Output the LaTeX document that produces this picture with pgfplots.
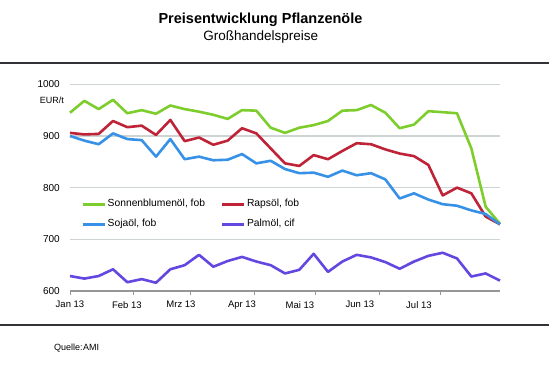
\documentclass[border=0pt]{standalone}
\usepackage{fontspec}
\setmainfont{Liberation Sans}
\usepackage{pgfplots}
\usepackage{pgfplotstable}
\pgfplotsset{compat=1.18}
\definecolor{cGreen}{RGB}{125,205,45}
\definecolor{cRed}{RGB}{190,35,55}
\definecolor{cBlue}{RGB}{55,145,230}
\definecolor{cPalm}{RGB}{100,70,225}
\definecolor{cGrid}{RGB}{205,212,210}
\definecolor{cAxis}{RGB}{150,150,150}
\definecolor{cRule}{RGB}{50,50,55}
\pgfplotstableread{
day green red blue palm
0 945 906 900 629
7 968 903 891 624
14 952 904 884 629
21 970 929 905 642
28 944 917 894 617
35 950 920 892 623
42 943 902 860 616
49 959 931 894 642
56 952 890 855 650
63 947 897 860 670
70 941 883 853 647
77 933 891 854 658
84 950 915 865 666
91 949 905 847 657
98 916 876 852 650
105 906 847 836 634
112 916 842 828 641
119 921 863 829 672
126 929 855 821 637
133 949 871 833 657
140 950 886 824 670
147 960 884 828 665
154 945 874 816 656
161 915 866 779 643
168 922 861 789 657
175 948 844 777 668
182 946 785 768 674
189 944 800 765 663
196 876 789 756 628
203 763 744 749 634
210 730 729 729 620
}\oeldata
\begin{document}
\begin{tikzpicture}
\path[use as bounding box] (0pt,0pt) rectangle (549pt,375pt);
\node[font=\bfseries\fontsize{14.5}{17}\selectfont] at (260.5pt,355.7pt) {Preisentwicklung Pflanzenöle};
\node[font=\fontsize{13.5}{16}\selectfont] at (260.8pt,337.7pt) {Großhandelspreise};
\draw[line width=2pt, cRule] (0pt,312.3pt) -- (549pt,312.3pt);
\draw[line width=2pt, cRule] (0pt,50pt) -- (549pt,50pt);
\node[anchor=west, font=\fontsize{9}{11}\selectfont, inner sep=0] at (54pt,27pt) {Quelle:\hspace{0.5pt}AMI};
\node[anchor=east, font=\fontsize{9}{11}\selectfont, inner sep=0] at (64pt,275pt) {EUR/t};
\begin{axis}[
  at={(70pt,84pt)}, anchor=south west,
  width=430pt, height=206.7pt, scale only axis,
  xmin=0, xmax=210, ymin=600, ymax=1000,
  axis x line*=bottom, axis y line*=left,
  y axis line style={draw=none},
  x axis line style={cAxis, line width=1.3pt, -},
  ytick={600,700,800,900,1000},
  yticklabels={600,700,800,900,1000},
  ytick style={draw=none},
  yticklabel style={anchor=east, inner sep=0, xshift=-6pt, font=\fontsize{10}{12}\selectfont},
  ymajorgrids, grid style={cGrid, line width=1.5pt},
  tick align=outside,
  major tick length=4pt,
  xtick={0,31,59,90,120,151,181},
  xticklabels={},
  xtick style={draw=cAxis, line width=1pt},
  extra x ticks={0,27.8,54.2,84,112.3,141.6,170.4},
  extra x tick labels={Jan 13,Feb 13,Mrz 13,Apr 13,Mai 13,Jun 13,Jul 13},
  extra x tick style={major tick length=0pt, xticklabel style={anchor=north, inner sep=0, yshift=-10pt, font=\fontsize{9.5}{11}\selectfont}},
  legend columns=2,
  legend cell align=left,
  legend style={at={(rel axis cs:0.0256,0.451)}, anchor=north west, draw=none, fill=none, inner sep=0pt,
    font=\fontsize{10.3}{12}\selectfont,
    nodes={inner sep=1.5pt, text height=7.5pt, text depth=2.5pt}, row sep=7pt},
  /tikz/every even column/.append style={column sep=14pt},
  legend image code/.code={\draw[#1, line width=3pt] (0pt,0pt) -- (22pt,0pt);},
  clip=false,
]
\addplot[cGreen, line width=2.6pt, line join=round] table[x=day, y=green] {\oeldata};
\addlegendentry{Sonnenblumenöl, fob}
\addplot[cRed, line width=2.6pt, line join=round] table[x=day, y=red] {\oeldata};
\addlegendentry{Rapsöl, fob}
\addplot[cBlue, line width=2.6pt, line join=round] table[x=day, y=blue] {\oeldata};
\addlegendentry{Sojaöl, fob}
\addplot[cPalm, line width=2.6pt, line join=round] table[x=day, y=palm] {\oeldata};
\addlegendentry{Palmöl, cif}
\end{axis}
\end{tikzpicture}
\end{document}
